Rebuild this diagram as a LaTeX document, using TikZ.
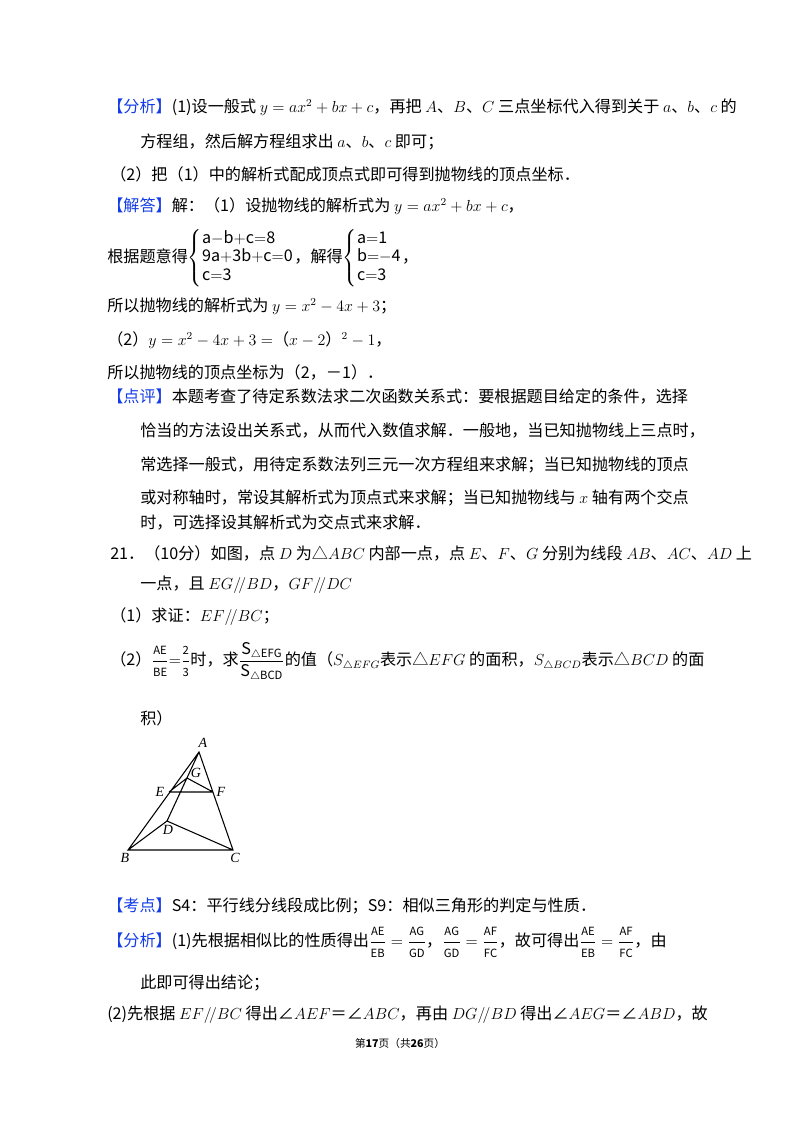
\documentclass[tikz,border=0pt]{standalone}
\usepackage{amsmath}
\usepackage{fontspec}
\setmainfont{Noto Sans CJK SC}
\newfontfamily\tms{Liberation Serif}
\definecolor{kb}{RGB}{20,60,230}
\newcommand{\hd}[1]{{\color{kb}【#1】}}
\newcommand{\mr}[1]{\mathrm{#1}}
\newcommand{\fr}[2]{\dfrac{\mr{\scriptstyle #1}}{\mr{\scriptstyle #2}}}
\newcommand{\sys}[3]{\left\{\begin{array}{@{}l@{}}\mr{#1}\\ \mr{#2}\\ \mr{#3}\end{array}\right.}
\begin{document}
\begin{tikzpicture}[x=0.75pt,y=-0.75pt,
  tl/.style={anchor=west,inner sep=0pt,font=\fontsize{12.1}{14}\selectfont},
  lb/.style={inner sep=0pt,font=\fontsize{10.5}{12}\selectfont\tms\itshape}]
\useasboundingbox (0,0) rectangle (800,1132);
\node[tl] (l1) at (107,107) {\hd{分析}(1)设一般式 $y=ax^2+bx+c$，再把 $A$、$B$、$C$ 三点坐标代入得到关于 $a$、$b$、$c$ 的};
\node[tl] (l2) at (140,142) {方程组，然后解方程组求出 $a$、$b$、$c$ 即可；};
\node[tl] (l3) at (110,174) {（2）把（1）中的解析式配成顶点式即可得到抛物线的顶点坐标．};
\node[tl] (l4) at (107,206) {\hd{解答}解：（1）设抛物线的解析式为 $y=ax^2+bx+c$，};
\node[tl] (l5) at (107,258) {根据题意得$\sys{a{-}b{+}c{=}8}{9a{+}3b{+}c{=}0}{c{=}3}$，解得$\sys{a{=}1}{b{=}{-}4}{c{=}3}$，};
\node[tl] (l6) at (107,306) {所以抛物线的解析式为 $y=x^2-4x+3$；};
\node[tl] (l7) at (107,340) {（2）$y=x^2-4x+3=$（$x-2$）$^2-1$，};
\node[tl] (l8) at (107,372) {所以抛物线的顶点坐标为（2，－1）．};
\node[tl] (l9) at (107,397) {\hd{点评}本题考查了待定系数法求二次函数关系式：要根据题目给定的条件，选择};
\node[tl] (l10) at (140,431) {恰当的方法设出关系式，从而代入数值求解．一般地，当已知抛物线上三点时，};
\node[tl] (l11) at (140,465) {常选择一般式，用待定系数法列三元一次方程组来求解；当已知抛物线的顶点};
\node[tl] (l12) at (140,498) {或对称轴时，常设其解析式为顶点式来求解；当已知抛物线与 $x$ 轴有两个交点};
\node[tl] (l13) at (140,523) {时，可选择设其解析式为交点式来求解．};
\node[tl] (l14) at (110,553) {21．（10分）如图，点 $D$ 为△$ABC$ 内部一点，点 $E$、$F$、$G$ 分别为线段 $AB$、$AC$、$AD$ 上};
\node[tl] (l15) at (140,585) {一点，且 $EG/\!/BD$，$GF/\!/DC$};
\node[tl] (l16) at (110,617) {（1）求证：$EF/\!/BC$；};
\node[tl] (l17) at (110,662) {（2）$\fr{AE}{BE}{=}\fr{2}{3}$时，求$\dfrac{\mr{S}_{\triangle\mr{EFG}}}{\mr{S}_{\triangle\mr{BCD}}}$的值（$S_{\triangle EFG}$表示△$EFG$ 的面积，$S_{\triangle BCD}$表示△$BCD$ 的面};
\node[tl] (l18) at (140,718) {积）};
% figure
\coordinate (A) at (199,752);
\coordinate (G) at (187,778);
\coordinate (E) at (169,792);
\coordinate (F) at (213,792);
\coordinate (D) at (167,821);
\coordinate (B) at (128,850);
\coordinate (C) at (233,850);
\draw[line width=0.8pt] (A)--(B)--(C)--cycle (E)--(F) (A)--(D)--(B) (D)--(C) (E)--(G)--(F);
\node[lb] (nA) at (203,743) {A};
\node[lb] (nG) at (196,773) {G};
\node[lb] (nE) at (160,792) {E};
\node[lb] (nF) at (221,792) {F};
\node[lb] (nD) at (168,830) {D};
\node[lb] (nB) at (125,858) {B};
\node[lb] (nC) at (235,858) {C};
\node[tl] (l19) at (107,906) {\hd{考点}S4：平行线分线段成比例；S9：相似三角形的判定与性质．};
\node[tl] (l20) at (107,942) {\hd{分析}(1)先根据相似比的性质得出$\fr{AE}{EB}=\fr{AG}{GD}$，$\fr{AG}{GD}=\fr{AF}{FC}$，故可得出$\fr{AE}{EB}=\fr{AF}{FC}$，由};
\node[tl] (l21) at (140,983) {此即可得出结论；};
\node[tl] (l22) at (107,1015) {(2)先根据 $EF/\!/BC$ 得出∠$AEF$＝∠$ABC$，再由 $DG/\!/BD$ 得出∠$AEG$＝∠$ABD$，故};
\node[inner sep=0pt,font=\fontsize{8}{10}\selectfont] (ft) at (400,1043) {第\textbf{17}页（共\textbf{26}页）};
\end{tikzpicture}
\end{document}
